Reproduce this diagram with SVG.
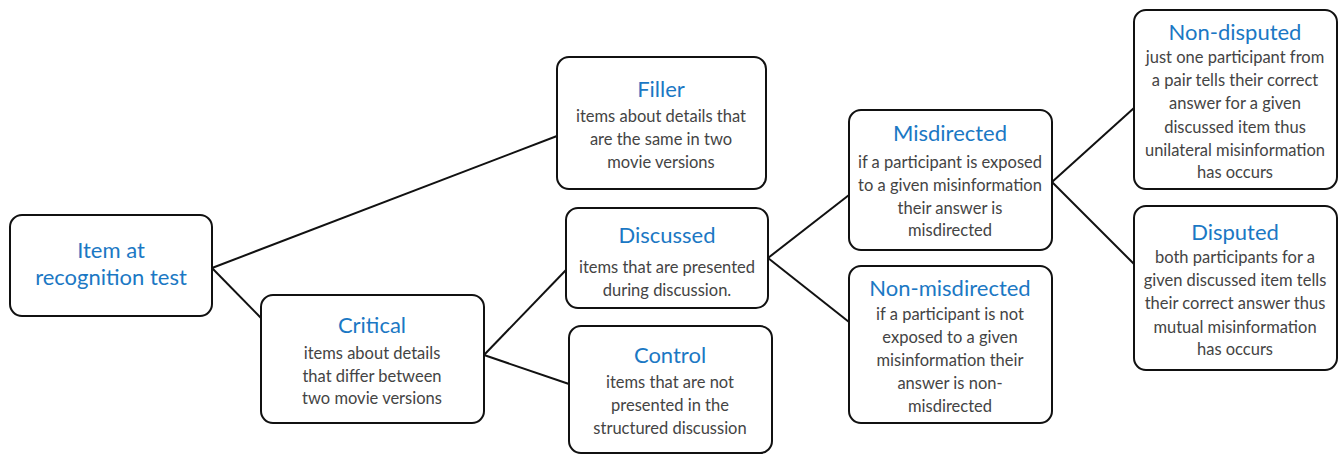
<svg xmlns="http://www.w3.org/2000/svg" width="1340" height="454" viewBox="0 0 1340 454">
<style>
.box{fill:#fff;stroke:#111;stroke-width:2}
.t{font-family:Lato,"Open Sans",sans-serif;font-size:22px;fill:#1b78c4;text-anchor:middle}
.b{font-family:Lato,"Open Sans",sans-serif;font-size:16.5px;fill:#444;text-anchor:middle}
.c line{stroke:#111;stroke-width:2}
</style>
<rect width="1340" height="454" fill="#fff"/>
<g class="c" id="connectors">
<line x1="212" y1="268" x2="557" y2="136"/>
<line x1="212" y1="268" x2="261" y2="318"/>
<line x1="484" y1="355" x2="566" y2="270"/>
<line x1="484" y1="355" x2="569" y2="384"/>
<line x1="768" y1="258" x2="849" y2="195"/>
<line x1="768" y1="258" x2="849" y2="322"/>
<line x1="1052" y1="182" x2="1134" y2="108"/>
<line x1="1052" y1="182" x2="1134" y2="264"/>
</g>
<g id="item">
<rect class="box" x="10" y="215" width="202" height="101" rx="12"/>
<text class="t" x="111" y="258">Item at</text>
<text class="t" x="111" y="285">recognition test</text>
</g>
<g id="filler">
<rect class="box" x="557" y="57" width="209" height="132" rx="12"/>
<text class="t" x="661" y="97">Filler</text>
<text class="b" x="661" y="122">items about details that</text>
<text class="b" x="661" y="145">are the same in two</text>
<text class="b" x="661" y="168">movie versions</text>
</g>
<g id="discussed">
<rect class="box" x="566" y="208" width="202" height="100" rx="12"/>
<text class="t" x="667" y="243">Discussed</text>
<text class="b" x="667" y="273">items that are presented</text>
<text class="b" x="667" y="296">during discussion.</text>
</g>
<g id="critical">
<rect class="box" x="261" y="295" width="223" height="128" rx="12"/>
<text class="t" x="372" y="333">Critical</text>
<text class="b" x="372" y="359">items about details</text>
<text class="b" x="372" y="382">that differ between</text>
<text class="b" x="372" y="404">two movie versions</text>
</g>
<g id="control">
<rect class="box" x="569" y="326" width="203" height="127" rx="12"/>
<text class="t" x="670" y="363">Control</text>
<text class="b" x="670" y="388">items that are not</text>
<text class="b" x="670" y="411">presented in the</text>
<text class="b" x="670" y="434">structured discussion</text>
</g>
<g id="misdirected">
<rect class="box" x="849" y="110" width="203" height="140" rx="12"/>
<text class="t" x="950" y="141">Misdirected</text>
<text class="b" x="950" y="168">if a participant is exposed</text>
<text class="b" x="950" y="191">to a given misinformation</text>
<text class="b" x="950" y="214">their answer is</text>
<text class="b" x="950" y="236">misdirected</text>
</g>
<g id="nonmisdirected">
<rect class="box" x="849" y="266" width="203" height="157" rx="12"/>
<text class="t" x="950" y="296">Non-misdirected</text>
<text class="b" x="950" y="320">if a participant is not</text>
<text class="b" x="950" y="343">exposed to a given</text>
<text class="b" x="950" y="366">misinformation their</text>
<text class="b" x="950" y="389">answer is non-</text>
<text class="b" x="950" y="412">misdirected</text>
</g>
<g id="nondisputed">
<rect class="box" x="1134" y="10" width="203" height="179" rx="12"/>
<text class="t" x="1235" y="40">Non-disputed</text>
<text class="b" x="1235" y="63">just one participant from</text>
<text class="b" x="1235" y="86">a pair tells their correct</text>
<text class="b" x="1235" y="109">answer for a given</text>
<text class="b" x="1235" y="133">discussed item thus</text>
<text class="b" x="1235" y="156">unilateral misinformation</text>
<text class="b" x="1235" y="178">has occurs</text>
</g>
<g id="disputed">
<rect class="box" x="1134" y="206" width="203" height="164" rx="12"/>
<text class="t" x="1235" y="240">Disputed</text>
<text class="b" x="1235" y="263">both participants for a</text>
<text class="b" x="1235" y="286">given discussed item tells</text>
<text class="b" x="1235" y="309">their correct answer thus</text>
<text class="b" x="1235" y="333">mutual misinformation</text>
<text class="b" x="1235" y="355">has occurs</text>
</g>
</svg>
